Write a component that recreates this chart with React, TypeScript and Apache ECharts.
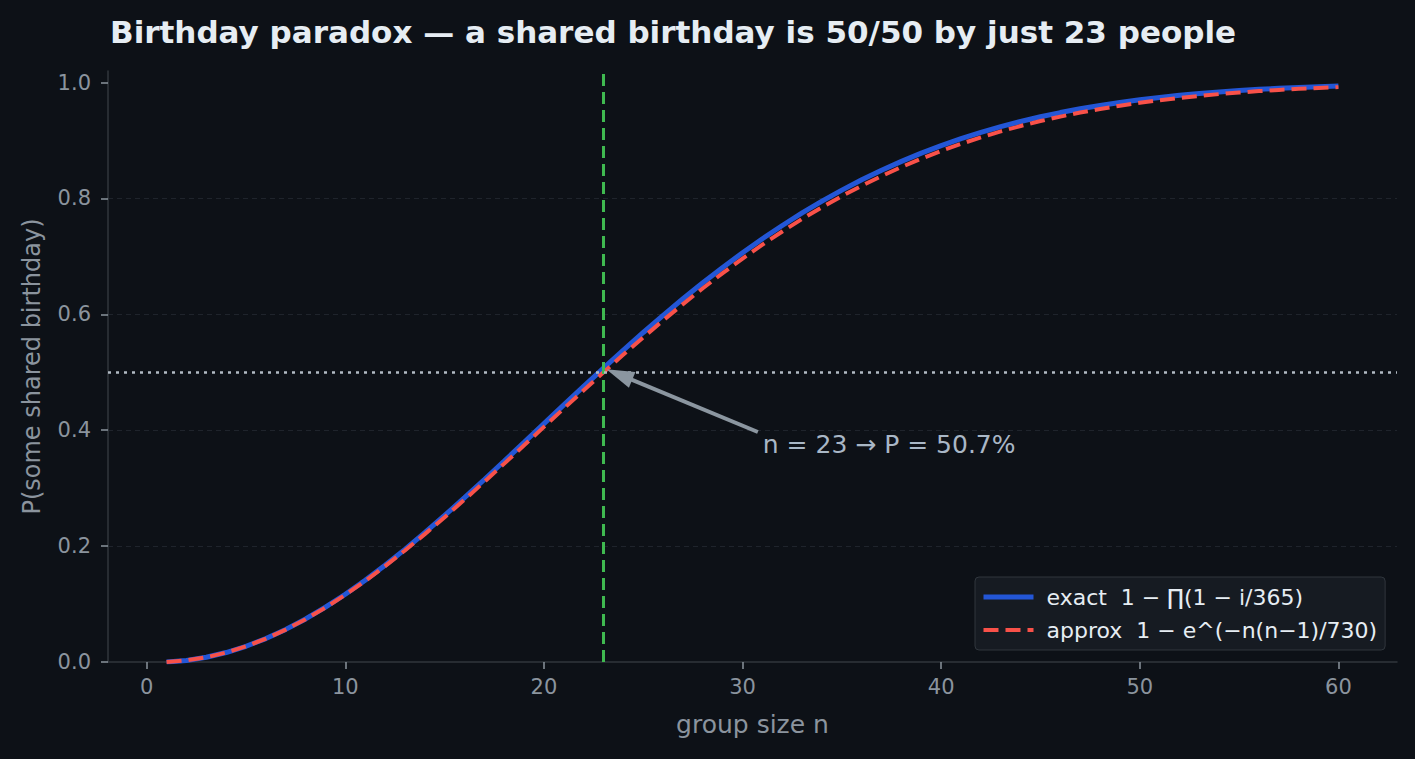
import React, { useEffect, useRef } from 'react';
import * as echarts from 'echarts';

// group size n and the two probability curves
const GROUP_SIZES = [
  1, 2, 3, 4, 5, 6, 7, 8, 9, 10, 11, 12, 13, 14, 15, 16, 17, 18, 19, 20,
  21, 22, 23, 24, 25, 26, 27, 28, 29, 30, 31, 32, 33, 34, 35, 36, 37, 38, 39, 40,
  41, 42, 43, 44, 45, 46, 47, 48, 49, 50, 51, 52, 53, 54, 55, 56, 57, 58, 59, 60,
];

const EXACT_P = [
  0, 0.00274, 0.0082, 0.01636, 0.02714, 0.04046, 0.05624, 0.07434, 0.09462, 0.11695,
  0.14114, 0.16702, 0.19441, 0.2231, 0.2529, 0.2836, 0.31501, 0.34691, 0.37912, 0.41144,
  0.44369, 0.4757, 0.5073, 0.53834, 0.5687, 0.59824, 0.62686, 0.65446, 0.68097, 0.70632,
  0.73045, 0.75335, 0.77497, 0.79532, 0.81438, 0.83218, 0.84873, 0.86407, 0.87822, 0.89123,
  0.90315, 0.91403, 0.92392, 0.93289, 0.94098, 0.94825, 0.95477, 0.9606, 0.96578, 0.97037,
  0.97443, 0.978, 0.98114, 0.98388, 0.98626, 0.98833, 0.99012, 0.99166, 0.99299, 0.99412,
];

const APPROX_P = [
  0, 0.00274, 0.00818, 0.0163, 0.02703, 0.04026, 0.05591, 0.07384, 0.09392, 0.11599,
  0.13988, 0.16542, 0.19242, 0.22067, 0.25, 0.28019, 0.31106, 0.3424, 0.37405, 0.4058,
  0.4375, 0.46894, 0.5, 0.53054, 0.56042, 0.58951, 0.61773, 0.64499, 0.67122, 0.69633,
  0.72029, 0.74306, 0.76462, 0.78497, 0.8041, 0.82201, 0.83872, 0.85427, 0.86868, 0.88199,
  0.89424, 0.90547, 0.91574, 0.92511, 0.93361, 0.94131, 0.94826, 0.95451, 0.96011, 0.96512,
  0.96958, 0.97355, 0.97706, 0.98017, 0.9829, 0.98529, 0.98738, 0.98921, 0.9908, 0.99217,
];

const X_TICKS = [0, 10, 20, 30, 40, 50, 60];
const Y_TICKS = [0, 0.2, 0.4, 0.6, 0.8, 1.0];

const THRESHOLD_N = 23;
const HALF = 0.5;

// annotation: arrow tail, arrow head, label anchor (data coords)
const ANNOT_TAIL = [30.77, 0.397];
const ANNOT_HEAD = [23, 0.5073];
const ANNOT_TEXT = [31.02, 0.3746];
const ANNOT_LABEL = 'n = 23 → P = 50.7%';

const EXACT_NAME = 'exact  1 − ∏(1 − i/365)';
const APPROX_NAME = 'approx  1 − e^(−n(n−1)/730)';

const FONT = '"DejaVu Sans", sans-serif';
const BG = '#0d1117';
const MUTED = '#8b949e';
const SPINE = '#30363d';
const BLUE = '#2356d6';
const RED = '#f85149';

const App: React.FC = () => {
  const chartRef = useRef<HTMLDivElement>(null);

  useEffect(() => {
    if (!chartRef.current) return;
    const chart = echarts.init(chartRef.current, null, { renderer: 'svg' });

    const exactData = GROUP_SIZES.map((n, i) => [n, EXACT_P[i]]);
    const approxData = GROUP_SIZES.map((n, i) => [n, APPROX_P[i]]);

    const option = {
      animation: false,
      backgroundColor: BG,
      textStyle: { fontFamily: FONT },
      title: {
        text: 'Birthday paradox — a shared birthday is 50/50 by just 23 people',
        left: 110,
        top: 16,
        padding: 0,
        textStyle: { color: '#e6edf3', fontSize: 31, fontWeight: 'bold', fontFamily: FONT },
      },
      grid: { left: 108, top: 71, right: 18, bottom: 97, containLabel: false },
      legend: {
        orient: 'vertical',
        left: 975,
        top: 577,
        padding: [9, 8, 9, 6],
        itemWidth: 50,
        itemHeight: 14,
        itemGap: 11,
        backgroundColor: '#161b22',
        borderColor: SPINE,
        borderWidth: 1,
        borderRadius: 4,
        itemStyle: { opacity: 0 },
        data: [
          { name: EXACT_NAME, itemStyle: { opacity: 0 }, lineStyle: { color: BLUE, width: 5, type: 'solid' } },
          { name: APPROX_NAME, itemStyle: { opacity: 0 }, lineStyle: { color: RED, width: 4, type: [15, 7] } },
        ],
        textStyle: { color: '#e6edf3', fontSize: 22, lineHeight: 22, fontFamily: FONT, padding: [0, 0, 0, 8] },
      },
      xAxis: {
        type: 'value',
        min: -1.95,
        max: 62.95,
        name: 'group size n',
        nameLocation: 'middle',
        nameGap: 50,
        nameTextStyle: { color: MUTED, fontSize: 25, fontFamily: FONT },
        axisLine: { show: true, onZero: false, lineStyle: { color: SPINE, width: 1.5 } },
        axisTick: { show: true, length: 7, customValues: X_TICKS, lineStyle: { color: MUTED, width: 1.5 } },
        axisLabel: { customValues: X_TICKS, color: MUTED, fontSize: 21, margin: 14, fontFamily: FONT },
        splitLine: { show: false },
      },
      yAxis: {
        type: 'value',
        min: 0,
        max: 1.02,
        interval: 0.2,
        name: 'P(some shared birthday)',
        nameLocation: 'middle',
        nameGap: 64,
        nameTextStyle: { color: MUTED, fontSize: 24, fontFamily: FONT },
        axisLine: { show: true, onZero: false, lineStyle: { color: SPINE, width: 1.5 } },
        axisTick: { show: true, length: 7, customValues: Y_TICKS, lineStyle: { color: MUTED, width: 1.5 } },
        axisLabel: {
          customValues: Y_TICKS,
          color: MUTED,
          fontSize: 21,
          margin: 17,
          fontFamily: FONT,
          formatter: (v: number) => v.toFixed(1),
        },
        splitLine: {
          show: true,
          showMinLine: false,
          showMaxLine: false,
          lineStyle: { color: '#1f242c', width: 1, type: [5, 4] },
        },
      },
      series: [
        {
          name: EXACT_NAME,
          type: 'line',
          data: exactData,
          symbol: 'none',
          showSymbol: false,
          z: 2,
          lineStyle: { color: BLUE, width: 5 },
          itemStyle: { color: BLUE },
        },
        {
          name: APPROX_NAME,
          type: 'line',
          data: approxData,
          symbol: 'none',
          showSymbol: false,
          z: 3,
          lineStyle: { color: RED, width: 4, type: [15, 7] },
          itemStyle: { color: RED },
        },
        {
          name: 'guides',
          type: 'line',
          data: [],
          z: 4,
          markLine: {
            silent: true,
            symbol: 'none',
            label: { show: false },
            data: [
              { xAxis: THRESHOLD_N, lineStyle: { color: '#3fb950', width: 3, type: [12, 6] } },
              { yAxis: HALF, lineStyle: { color: '#b1bac4', width: 2.5, type: [3, 5] } },
            ],
          },
        },
        {
          name: 'annotation',
          type: 'custom',
          z: 5,
          silent: true,
          clip: false,
          encode: { x: [0, 2, 4], y: [1, 3, 5] },
          data: [[ANNOT_TAIL[0], ANNOT_TAIL[1], ANNOT_HEAD[0], ANNOT_HEAD[1], ANNOT_TEXT[0], ANNOT_TEXT[1]]],
          renderItem: (params: any, api: any) => {
            const tail = api.coord([api.value(0), api.value(1)]);
            const head = api.coord([api.value(2), api.value(3)]);
            const txt = api.coord([api.value(4), api.value(5)]);
            const dx = head[0] - tail[0];
            const dy = head[1] - tail[1];
            const len = Math.sqrt(dx * dx + dy * dy);
            const ux = dx / len;
            const uy = dy / len;
            const tip = [head[0] - ux * 3, head[1] - uy * 3];
            const base = [tip[0] - ux * 28, tip[1] - uy * 28];
            const px = -uy;
            const py = ux;
            const c1 = [base[0] + px * 8.5, base[1] + py * 8.5];
            const c2 = [base[0] - px * 8.5, base[1] - py * 8.5];
            const color = '#8b96a0';
            return {
              type: 'group',
              children: [
                {
                  type: 'line',
                  shape: { x1: tail[0], y1: tail[1], x2: base[0] + ux * 2, y2: base[1] + uy * 2 },
                  style: { stroke: color, lineWidth: 4 },
                },
                {
                  type: 'polygon',
                  shape: { points: [tip, c1, c2] },
                  style: { fill: color },
                },
                {
                  type: 'text',
                  x: txt[0],
                  y: txt[1],
                  style: {
                    text: ANNOT_LABEL,
                    fill: '#a9b7c6',
                    fontSize: 25,
                    fontFamily: FONT,
                    align: 'left',
                    verticalAlign: 'middle',
                  },
                },
              ],
            };
          },
        },
      ],
    };

    chart.setOption(option);

    return () => {
      chart.dispose();
    };
  }, []);

  return (
    <div
      ref={chartRef}
      style={{ position: 'fixed', left: 0, top: 0, width: 1415, height: 759, background: BG }}
    />
  );
};

export default App;
